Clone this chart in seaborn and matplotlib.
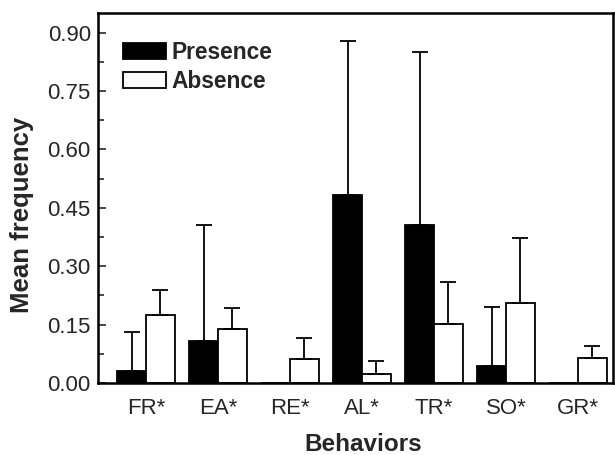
import numpy as np
import pandas as pd
import matplotlib
matplotlib.use("Agg")
import matplotlib.pyplot as plt
from matplotlib.ticker import FormatStrFormatter, MultipleLocator
import seaborn as sns

# values
behaviors = ["FR*", "EA*", "RE*", "AL*", "TR*", "SO*", "GR*"]
presence_mean = [0.030, 0.108, 0.0, 0.484, 0.405, 0.044, 0.0]
presence_top = [0.130, 0.405, 0.0, 0.878, 0.850, 0.195, 0.0]
absence_mean = [0.175, 0.139, 0.062, 0.024, 0.151, 0.206, 0.065]
absence_top = [0.240, 0.192, 0.115, 0.056, 0.259, 0.372, 0.095]
groups = ["Presence", "Absence"]

sns.set_style("ticks")
plt.rcParams['font.family'] = ['Liberation Sans', 'DejaVu Sans']

df = pd.DataFrame({
    "behavior": behaviors * 2,
    "group": [groups[0]] * len(behaviors) + [groups[1]] * len(behaviors),
    "mean": presence_mean + absence_mean,
})

fig = plt.figure(figsize=(6.15, 4.55), dpi=100)
ax = fig.add_axes([0.159, 0.158, 0.838, 0.813])

sns.barplot(data=df, x="behavior", y="mean", hue="group", hue_order=groups,
            palette={"Presence": "black", "Absence": "white"},
            edgecolor="black", linewidth=1.3, errorbar=None, ax=ax)

# upper-only error bars from the bar tops
tops = {"Presence": presence_top, "Absence": absence_top}
for cont, g in zip(ax.containers, groups):
    xs = [p.get_x() + p.get_width() / 2 for p in cont.patches]
    hs = [p.get_height() for p in cont.patches]
    up = [max(t - h, 0) for t, h in zip(tops[g], hs)]
    keep = [i for i, t in enumerate(tops[g]) if t > 0]
    ax.errorbar([xs[i] for i in keep], [hs[i] for i in keep],
                yerr=[[0] * len(keep), [up[i] for i in keep]],
                fmt="none", ecolor="black", elinewidth=1.3, capsize=5.5,
                capthick=1.3, zorder=1)

ax.set_xlim(-0.67, 6.49)
ax.set_ylim(0, 0.95)
ax.set_yticks(np.arange(0, 0.91, 0.15))
ax.yaxis.set_major_formatter(FormatStrFormatter("%.2f"))
ax.yaxis.set_minor_locator(MultipleLocator(0.075))
ax.tick_params(axis="y", which="major", direction="in", length=6, width=1.2,
               labelsize=16, pad=5)
ax.tick_params(axis="y", which="minor", direction="in", length=4, width=1.2)
ax.tick_params(axis="x", length=0, labelsize=16, pad=11)
for s in ax.spines.values():
    s.set_visible(True)
    s.set_linewidth(1.8)
    s.set_color("black")

ax.set_xlabel("Behaviors", fontsize=17.5, fontweight="bold")
ax.set_ylabel("Mean frequency", fontsize=18.5, fontweight="bold")
ax.xaxis.set_label_coords(0.515, -0.135)
ax.yaxis.set_label_coords(-0.124, 0.454)

ax.legend(loc="upper left", bbox_to_anchor=(0.048, 0.925), frameon=False,
          prop={"weight": "bold", "size": 16.4}, handlelength=1.89,
          handleheight=0.72, handletextpad=0.25, labelspacing=0.28,
          borderpad=0, borderaxespad=0)

fig.savefig("out.png", dpi=100)
